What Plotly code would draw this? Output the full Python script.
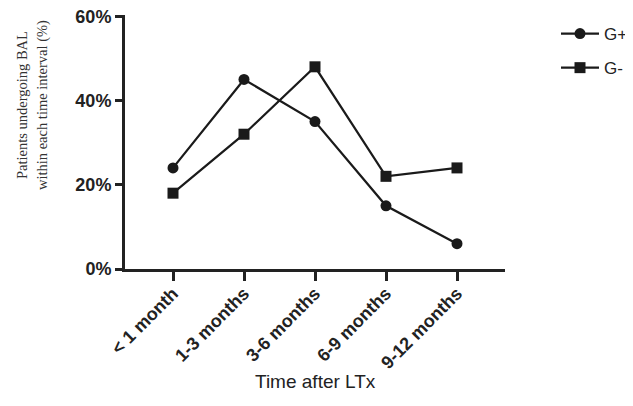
import plotly.graph_objects as go

categories = ["< 1 month", "1-3 months", "3-6 months", "6-9 months", "9-12 months"]
g_plus = [24, 45, 35, 15, 6]
g_minus = [18, 32, 48, 22, 24]
y_ticks = [0, 20, 40, 60]
y_tick_labels = ["0%", "20%", "40%", "60%"]
y_title_lines = ["Patients undergoing BAL", "within each time interval (%)"]
x_title = "Time after LTx"

x_pos = list(range(len(categories)))

# page body has an 8px margin, so the figure is drawn 8px smaller and offset
W, H = 625, 398
L, T = 117, 7
PW, PH = 380, 254

fig = go.Figure()
fig.add_trace(go.Scatter(
    x=x_pos, y=g_plus, name="G+", mode="lines+markers",
    line=dict(color="#1a1a1a", width=2.2),
    marker=dict(symbol="circle", size=11, color="#1a1a1a"),
    legendgroup="a",
))
fig.add_trace(go.Scatter(
    x=x_pos, y=g_minus, name="G-", mode="lines+markers",
    line=dict(color="#1a1a1a", width=2.2),
    marker=dict(symbol="square", size=11, color="#1a1a1a"),
    legendgroup="b",
))

annotations = []
for i, line in enumerate(y_title_lines):
    annotations.append(dict(
        text=line, xref="paper", yref="paper",
        x=(14 + 20 * i - L) / PW, y=(T + PH - 97) / PH,
        xanchor="center", yanchor="middle", textangle=-90, showarrow=False,
        font=dict(family="Liberation Serif, Times New Roman", size=14.5, color="#333")))
annotations.append(dict(
    text=x_title, xref="paper", yref="paper",
    x=0.5, y=(T + PH - 373) / PH,
    xanchor="center", yanchor="middle", showarrow=False,
    font=dict(family="Liberation Sans, Arial", size=19, color="#222")))

fig.update_layout(
    width=W, height=H,
    margin=dict(l=L, r=W - L - PW, t=T, b=H - T - PH, autoexpand=False),
    paper_bgcolor="white", plot_bgcolor="white",
    showlegend=True,
    legend=dict(
        xref="container", yref="container",
        x=548 / W, y=1 - 8 / H, xanchor="left", yanchor="top",
        font=dict(family="Liberation Sans, Arial", size=17, color="#222"),
        tracegroupgap=9, itemwidth=38,
        bgcolor="rgba(0,0,0,0)",
    ),
    font=dict(family="Liberation Sans, Arial", color="#222"),
    annotations=annotations,
)

fig.update_xaxes(
    range=[-0.676, 4.676],
    tickmode="array", tickvals=x_pos, ticktext=categories,
    tickangle=-45,
    tickfont=dict(family="Liberation Sans, Arial", size=18, color="#222", weight="bold"),
    showline=True, linecolor="#222", linewidth=3,
    ticks="outside", ticklen=9, tickwidth=3, tickcolor="#222",
    ticklabelstandoff=-5,
    showgrid=False, zeroline=False, automargin=False,
)
fig.update_yaxes(
    range=[0, 60.3],
    tickmode="array", tickvals=y_ticks, ticktext=y_tick_labels,
    tickfont=dict(family="Liberation Sans, Arial", size=18, color="#222", weight="bold"),
    ticklabeloverflow="allow",
    showline=True, linecolor="#222", linewidth=3,
    ticks="outside", ticklen=7, tickwidth=3, tickcolor="#222",
    showgrid=False, zeroline=False, automargin=False,
)

fig.write_html("out.html")
